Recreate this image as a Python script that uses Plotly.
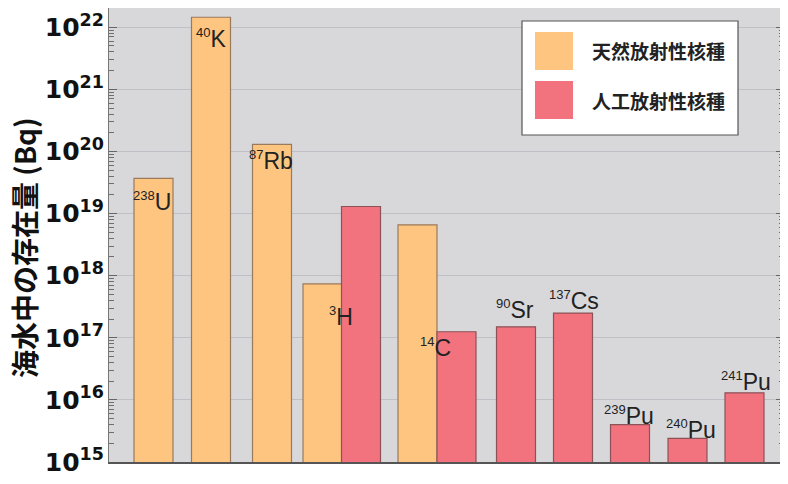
import math
import plotly.graph_objects as go

# ---- data ----
natural_names = ["238U", "40K", "87Rb", "3H", "14C"]
natural_values = [3.7e19, 1.45e22, 1.3e20, 7.4e17, 6.6e18]
natural_pos = [44.5, 102, 163, 213.5, 308.5]

artificial_names = ["3H", "14C", "90Sr", "137Cs", "239Pu", "240Pu", "241Pu"]
artificial_values = [1.3e19, 1.25e17, 1.5e17, 2.5e17, 4.0e15, 2.4e15, 1.3e16]
artificial_pos = [252, 347.5, 407, 464, 521, 578.5, 635.5]

legend_names = ["天然放射性核種", "人工放射性核種"]
y_title = "海水中の存在量 (Bq)"
decades = list(range(15, 23))

# isotope labels: (series, index, mass number, symbol)
labels = [
    ("nat", 0, "238", "U"),
    ("nat", 1, "40", "K"),
    ("nat", 2, "87", "Rb"),
    ("nat", 3, "3", "H"),
    ("art", 1, "14", "C"),
    ("art", 2, "90", "Sr"),
    ("art", 3, "137", "Cs"),
    ("art", 4, "239", "Pu"),
    ("art", 5, "240", "Pu"),
    ("art", 6, "241", "Pu"),
]
# pixel offsets of label centre from bar-top centre (style)
label_shift = [(-2, -23), (0, -21), (-1, -16), (18, -33), (-21, -16),
               (-1, 17), (1, 13), (-1, 9), (3, 9), (1, 11)]

ORANGE = "#FDC57F"
RED = "#F2737E"
BAR_W = 39
Y_RANGE = [15, 22.31]

# page has an 8px body margin; plot area spans page x 109..784, y 8..462
PW, PH = 675, 454
def px(x):  # page x -> paper x
    return (x - 109) / PW
def py(y):  # page y -> paper y
    return 1 - (y - 8) / PH

fig = go.Figure()
fig.add_trace(go.Bar(x=natural_pos, y=natural_values, width=BAR_W, name=legend_names[0],
                     marker=dict(color=ORANGE, line=dict(color="#9a7a5c", width=1.2))))
fig.add_trace(go.Bar(x=artificial_pos, y=artificial_values, width=BAR_W, name=legend_names[1],
                     marker=dict(color=RED, line=dict(color="#8c5258", width=1.2))))
# invisible trace carrying the minor-tick axis
fig.add_trace(go.Scatter(x=[natural_pos[0]], y=[natural_values[0]], yaxis="y2",
                         mode="markers", marker=dict(opacity=0), hoverinfo="skip",
                         showlegend=False))

series = {"nat": (natural_pos, natural_values), "art": (artificial_pos, artificial_values)}
for (s, i, mass, sym), (dx, dy) in zip(labels, label_shift):
    xs, ys = series[s]
    fig.add_annotation(
        x=xs[i], y=math.log10(ys[i]), xref="x", yref="y",
        text=f"<sup><span style='font-size:13px'>{mass}</span></sup>{sym}", showarrow=False,
        xanchor="center", yanchor="middle", xshift=dx, yshift=dy,
        font=dict(family="Liberation Sans", size=23, color="#222222"),
    )

# custom legend
fig.add_shape(type="rect", xref="paper", yref="paper",
              x0=px(522), x1=px(738), y0=py(135), y1=py(21),
              fillcolor="white", line=dict(color="#555555", width=1.2), layer="above")
for k, (col, name) in enumerate(zip([ORANGE, RED], legend_names)):
    top = 32 + k * 49
    fig.add_shape(type="rect", xref="paper", yref="paper",
                  x0=px(535), x1=px(573), y0=py(top + 38), y1=py(top),
                  fillcolor=col, line=dict(width=0), layer="above")
    fig.add_annotation(xref="paper", yref="paper",
                       x=px(590), y=py(top + 19),
                       text=name, showarrow=False, xanchor="left", yanchor="middle",
                       font=dict(family="Noto Sans CJK JP", size=19, color="#222222", weight="bold"))

# y-axis title
fig.add_annotation(xref="paper", yref="paper", x=px(24), y=py(248),
                   text=y_title, textangle=-90, showarrow=False,
                   xanchor="center", yanchor="middle",
                   font=dict(family="Noto Sans CJK JP", size=28, color="#111111", weight="bold"))

minor_vals = [float(m) * 10.0 ** d for d in decades for m in range(2, 10)]

fig.update_layout(
    width=780, height=476,
    margin=dict(l=101, r=4, t=0, b=22, autoexpand=False),
    paper_bgcolor="white", plot_bgcolor="#D8D8DB",
    showlegend=False, barmode="overlay",
    xaxis=dict(range=[0, 675], showticklabels=False, showgrid=False, zeroline=False,
               showline=True, linecolor="#555555", linewidth=1.5, ticks=""),
    yaxis=dict(type="log", range=Y_RANGE, dtick=1, exponentformat="power",
               showgrid=True, gridcolor="#BFBFC6", gridwidth=1,
               ticks="inside", ticklen=8, tickcolor="#666666", tickwidth=1.2,
               showline=True, linecolor="#777777", linewidth=1.2, mirror="ticks",
               tickfont=dict(family="DejaVu Sans", size=20, color="#111111", weight="bold")),
    yaxis2=dict(type="log", range=Y_RANGE, overlaying="y", side="left", anchor="x",
                tickvals=minor_vals, showticklabels=False, showgrid=False,
                ticks="inside", ticklen=5, tickcolor="#6E6E6E", tickwidth=1,
                showline=False, mirror="ticks", zeroline=False),
)

fig.write_html("out.html")
